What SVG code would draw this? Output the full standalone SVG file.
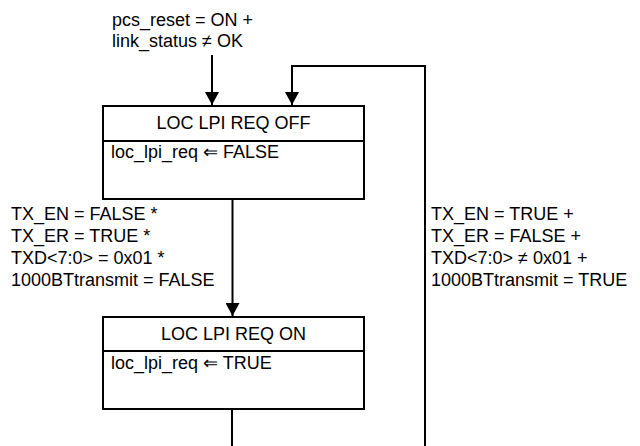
<svg xmlns="http://www.w3.org/2000/svg" width="640" height="446" viewBox="0 0 640 446">
<style>
text { font-family: "Liberation Sans", Arial, sans-serif; font-size: 18px; fill: #000; }
.box { fill: #fff; stroke: #000; stroke-width: 2; }
.line { fill: none; stroke: #000; stroke-width: 2; }
.mid { text-anchor: middle; }
</style>
<defs>
<marker id="ah" markerUnits="userSpaceOnUse" markerWidth="14" markerHeight="14" refX="13" refY="7" orient="auto">
<path d="M0,0 L13,7 L0,14 Z" fill="#000"/>
</marker>
</defs>
<g id="connectors">
<line class="line" x1="212" y1="55" x2="212" y2="105" marker-end="url(#ah)"/>
<polyline class="line" points="425,446 425,66 292,66 292,105" marker-end="url(#ah)"/>
<line class="line" x1="232.5" y1="199" x2="232.5" y2="316" marker-end="url(#ah)"/>
<line class="line" x1="232" y1="409" x2="232" y2="446"/>
</g>
<g id="reset-label">
<text x="112" y="26">pcs_reset = ON +</text>
<text x="112" y="46.5">link_status ≠ OK</text>
</g>
<g id="loc-lpi-req-off">
<rect class="box" x="103" y="106" width="261" height="93"/>
<line class="line" x1="103" y1="141" x2="364" y2="141"/>
<text class="mid" x="233.5" y="129">LOC LPI REQ OFF</text>
<text x="111" y="158">loc_lpi_req ⇐ FALSE</text>
</g>
<g id="loc-lpi-req-on">
<rect class="box" x="103" y="317" width="261" height="92"/>
<line class="line" x1="103" y1="351" x2="364" y2="351"/>
<text class="mid" x="233.5" y="340">LOC LPI REQ ON</text>
<text x="111" y="369">loc_lpi_req ⇐ TRUE</text>
</g>
<g id="off-to-on-label">
<text x="11" y="220">TX_EN = FALSE *</text>
<text x="11" y="242">TX_ER = TRUE *</text>
<text x="11" y="264">TXD&lt;7:0&gt; = 0x01 *</text>
<text x="11" y="286">1000BTtransmit = FALSE</text>
</g>
<g id="on-to-off-label">
<text x="431" y="220">TX_EN = TRUE +</text>
<text x="431" y="242">TX_ER = FALSE +</text>
<text x="431" y="264">TXD&lt;7:0&gt; ≠ 0x01 +</text>
<text x="431" y="286">1000BTtransmit = TRUE</text>
</g>
</svg>
